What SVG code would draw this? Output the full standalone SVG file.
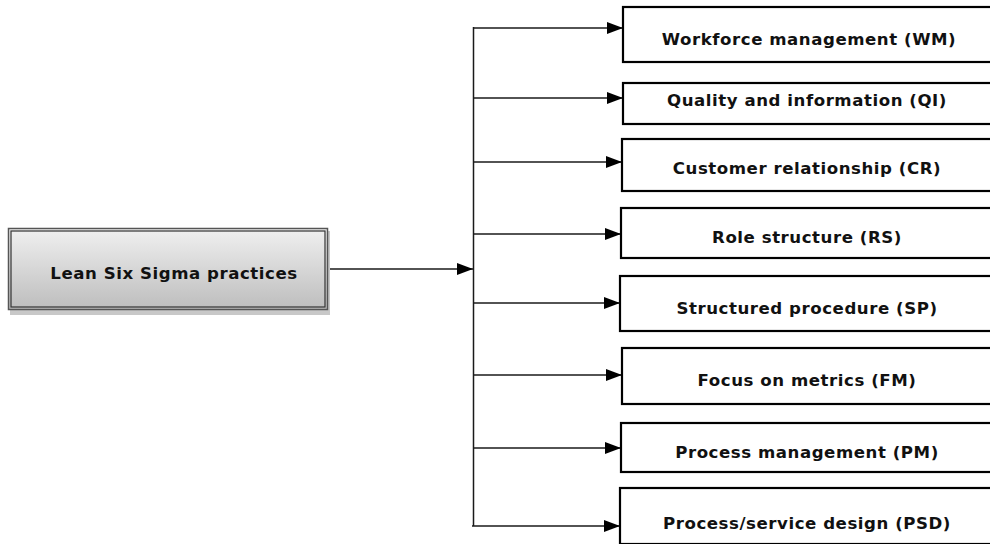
<svg xmlns="http://www.w3.org/2000/svg" width="990" height="544" viewBox="0 0 990 544">
<defs>
<linearGradient id="g" x1="0" y1="0" x2="0" y2="1">
<stop offset="0" stop-color="#f0f0f0"/>
<stop offset="1" stop-color="#bdbdbd"/>
</linearGradient>
<marker id="ah" markerWidth="16" markerHeight="12" refX="16" refY="6" orient="auto" markerUnits="userSpaceOnUse">
<path d="M0,0 L16,6 L0,12 Z" fill="#000"/>
</marker>
</defs>
<style>
.box{fill:#fff;stroke:#000;stroke-width:2.2}
.t{font-family:"DejaVu Sans","Liberation Sans",sans-serif;font-weight:bold;font-size:16.6px;letter-spacing:0.55px;fill:#111;text-anchor:middle}
.c{fill:none;stroke:#1a1a1a;stroke-width:1.5}
</style>
<rect width="990" height="544" fill="#fff"/>
<g id="connectors">
<path class="c" d="M473.5,27 V526"/>
<path class="c" d="M328,269 H473" marker-end="url(#ah)"/>
<path class="c" d="M473.5,28 H623" marker-end="url(#ah)"/>
<path class="c" d="M473.5,98 H623" marker-end="url(#ah)"/>
<path class="c" d="M473.5,162 H622" marker-end="url(#ah)"/>
<path class="c" d="M473,234 H621" marker-end="url(#ah)"/>
<path class="c" d="M473,303 H620" marker-end="url(#ah)"/>
<path class="c" d="M473,375 H622" marker-end="url(#ah)"/>
<path class="c" d="M473,448 H621" marker-end="url(#ah)"/>
<path class="c" d="M472,526 H620" marker-end="url(#ah)"/>
</g>
<g id="lss">
<rect x="10" y="231" width="320" height="84" fill="#c8c8c8"/>
<rect x="8.5" y="228.5" width="319" height="81" fill="url(#g)" stroke="#555" stroke-width="1.5"/>
<rect x="11" y="231" width="314" height="76" fill="none" stroke="#333" stroke-width="1.2"/>
<text class="t" x="174" y="279">Lean Six Sigma practices</text>
</g>
<g id="wm"><rect class="box" x="623" y="7" width="372" height="55"/><text class="t" x="809" y="45">Workforce management (WM)</text></g>
<g id="qi"><rect class="box" x="623" y="83" width="372" height="41"/><text class="t" x="807" y="106">Quality and information (QI)</text></g>
<g id="cr"><rect class="box" x="622" y="139" width="372" height="52"/><text class="t" x="807" y="174">Customer relationship (CR)</text></g>
<g id="rs"><rect class="box" x="621" y="208" width="372" height="50"/><text class="t" x="807" y="243">Role structure (RS)</text></g>
<g id="sp"><rect class="box" x="620" y="276" width="372" height="55"/><text class="t" x="807" y="314">Structured procedure (SP)</text></g>
<g id="fm"><rect class="box" x="622" y="348" width="372" height="56"/><text class="t" x="807" y="386">Focus on metrics (FM)</text></g>
<g id="pm"><rect class="box" x="621" y="423" width="372" height="49"/><text class="t" x="807" y="458">Process management (PM)</text></g>
<g id="psd"><rect class="box" x="620" y="488" width="372" height="56"/><text class="t" x="807" y="529">Process/service design (PSD)</text></g>
</svg>
